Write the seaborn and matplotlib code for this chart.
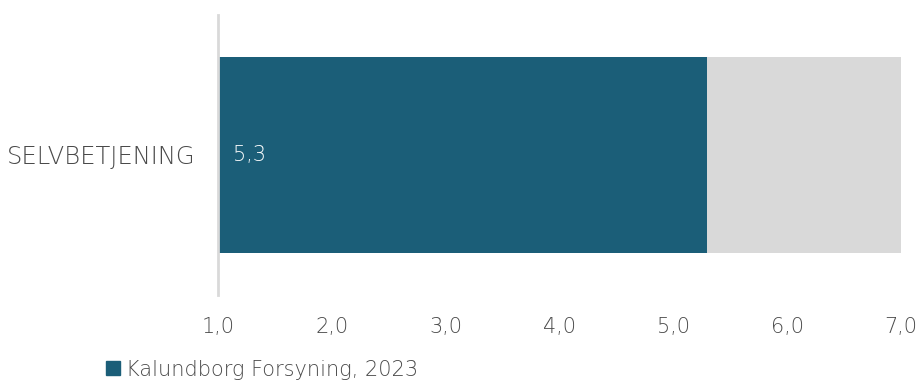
import numpy as np
import pandas as pd
import matplotlib.pyplot as plt
import seaborn as sb
from matplotlib.patches import Patch

categories = ['SELVBETJENING']
values = [5.3]
scale_max = [7.0]
series_name = 'Kalundborg Forsyning, 2023'
xticks = [1, 2, 3, 4, 5, 6, 7]

teal = '#1b5e78'
grey = '#d9d9d9'
txt = '#4a4a4a'

sb.set_style('white')
plt.rcParams['font.family'] = ['DejaVu Sans']
fs = 15

df = pd.DataFrame({'cat': categories, 'val': values, 'max': scale_max})

fig = plt.figure(figsize=(9.19, 3.85), dpi=100)
ax = fig.add_axes([0.2372, 0.2338, 0.7432, 0.7273])

# background bar to scale max, then the value on top
sb.barplot(data=df, x='max', y='cat', color=grey, width=0.7, ax=ax, orient='h',
           saturation=1, linewidth=0)
sb.barplot(data=df, x='val', y='cat', color=teal, width=0.7, ax=ax, orient='h',
           saturation=1, linewidth=0)

ax.set_xlim(1, 7)
ax.set_ylim(0.5, -0.5)
ax.set_xticks(xticks)
ax.set_xticklabels([f'{t:.1f}'.replace('.', ',') for t in xticks],
                   fontsize=fs, color=txt, fontweight='light')
ax.set_yticks([0])
ax.set_yticklabels(categories, fontsize=17.5, color=txt, fontweight='light')
ax.tick_params(axis='x', length=0, pad=16)
ax.tick_params(axis='y', length=0, pad=16)
ax.set_xlabel('')
ax.set_ylabel('')

for s in ['top', 'right', 'bottom']:
    ax.spines[s].set_visible(False)
ax.spines['left'].set_color('#d9d9d9')
ax.spines['left'].set_linewidth(2)

for i, v in enumerate(values):
    ax.text(1.13, i, f'{v:.1f}'.replace('.', ','), color='white',
            fontsize=fs, fontweight='light', va='center', ha='left')

fig.legend(handles=[Patch(color=teal, label=series_name)],
           loc='lower left', bbox_to_anchor=(0.095, -0.035), frameon=False,
           handlelength=0.65, handleheight=0.65, handletextpad=0.3,
           labelcolor=txt, prop={'size': fs, 'weight': 'light'})

plt.savefig('out.png', dpi=100)
